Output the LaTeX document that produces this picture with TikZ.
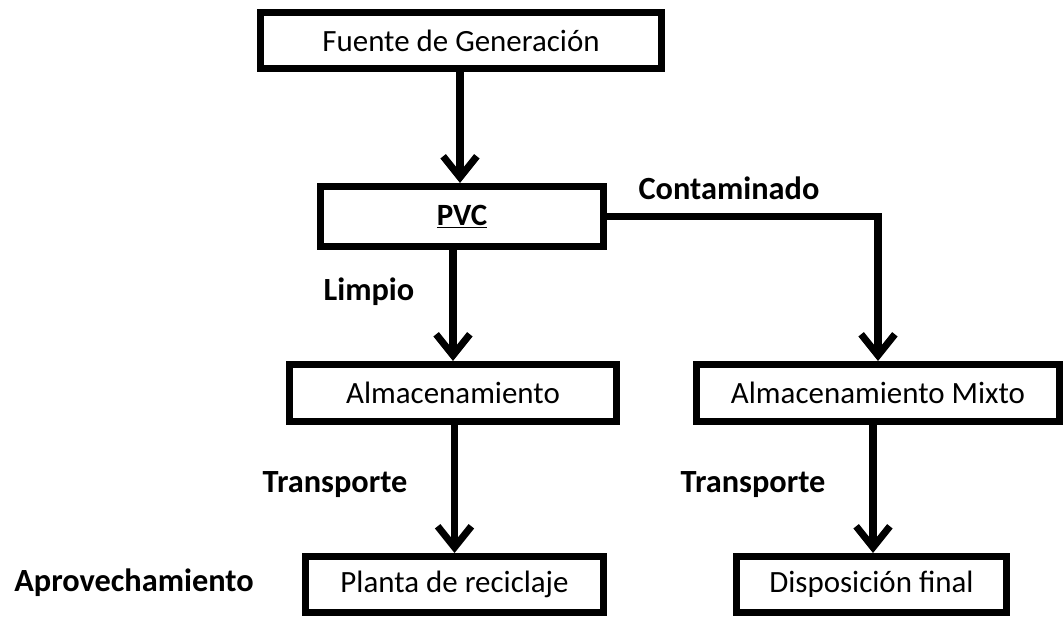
\documentclass[tikz,border=0pt]{standalone}
\usepackage{fontspec}
\setmainfont{Carlito}
\usetikzlibrary{arrows.meta}

\tikzset{
    caja/.style = {draw, line width=5pt, inner sep=0pt, align=center,
        font=\fontsize{22}{26}\selectfont},
    etiqueta/.style = {font=\bfseries\fontsize{23}{27}\selectfont},
    flecha/.style = {line width=5pt, -{Straight Barb[length=15pt, width=24pt, line width=5pt]}}
}

\begin{document}
\begin{tikzpicture}[x=0.025cm, y=-0.025cm]
\useasboundingbox (0,0) rectangle (1063,617);
\begin{scope}
    \node[caja, minimum width=401*0.025cm, minimum height=56*0.025cm] (fuente) at (461,40.5) {Fuente de Generación};
    \node[caja, minimum width=283*0.025cm, minimum height=60*0.025cm] (pvc) at (462,216.5) {\textbf{\underline{PVC}}};
    \node[caja, minimum width=327*0.025cm, minimum height=57*0.025cm] (alm) at (453,393) {Almacenamiento};
    \node[caja, minimum width=363*0.025cm, minimum height=57*0.025cm] (mixto) at (878,393) {Almacenamiento Mixto};
    \node[caja, minimum width=298*0.025cm, minimum height=56*0.025cm] (planta) at (454.5,584.5) {Planta de reciclaje};
    \node[caja, minimum width=270*0.025cm, minimum height=56*0.025cm] (disp) at (871.5,584.5) {Disposición final};
    \end{scope}
\node[etiqueta] (contam) at (729,188) {Contaminado};
\node[etiqueta] (limpio) at (369,292) {Limpio};
\node[etiqueta] (transA) at (335,485) {Transporte};
\node[etiqueta] (transB) at (753,485) {Transporte};
\node[etiqueta] (aprov) at (134,583) {Aprovechamiento};
\draw[flecha] (fuente.south -| 460,0) -- (pvc.north -| 460,0);
\draw[flecha] (pvc.south -| alm) -- (alm.north);
\draw[flecha] (pvc.east) -| (mixto.north);
\draw[flecha] (alm.south -| planta.north) -- (planta.north);
\draw[flecha] (mixto.south -| 873,0) -- (disp.north -| 873,0);
%% Flujo del PVC hasta su destino.
\end{tikzpicture}
\end{document}
